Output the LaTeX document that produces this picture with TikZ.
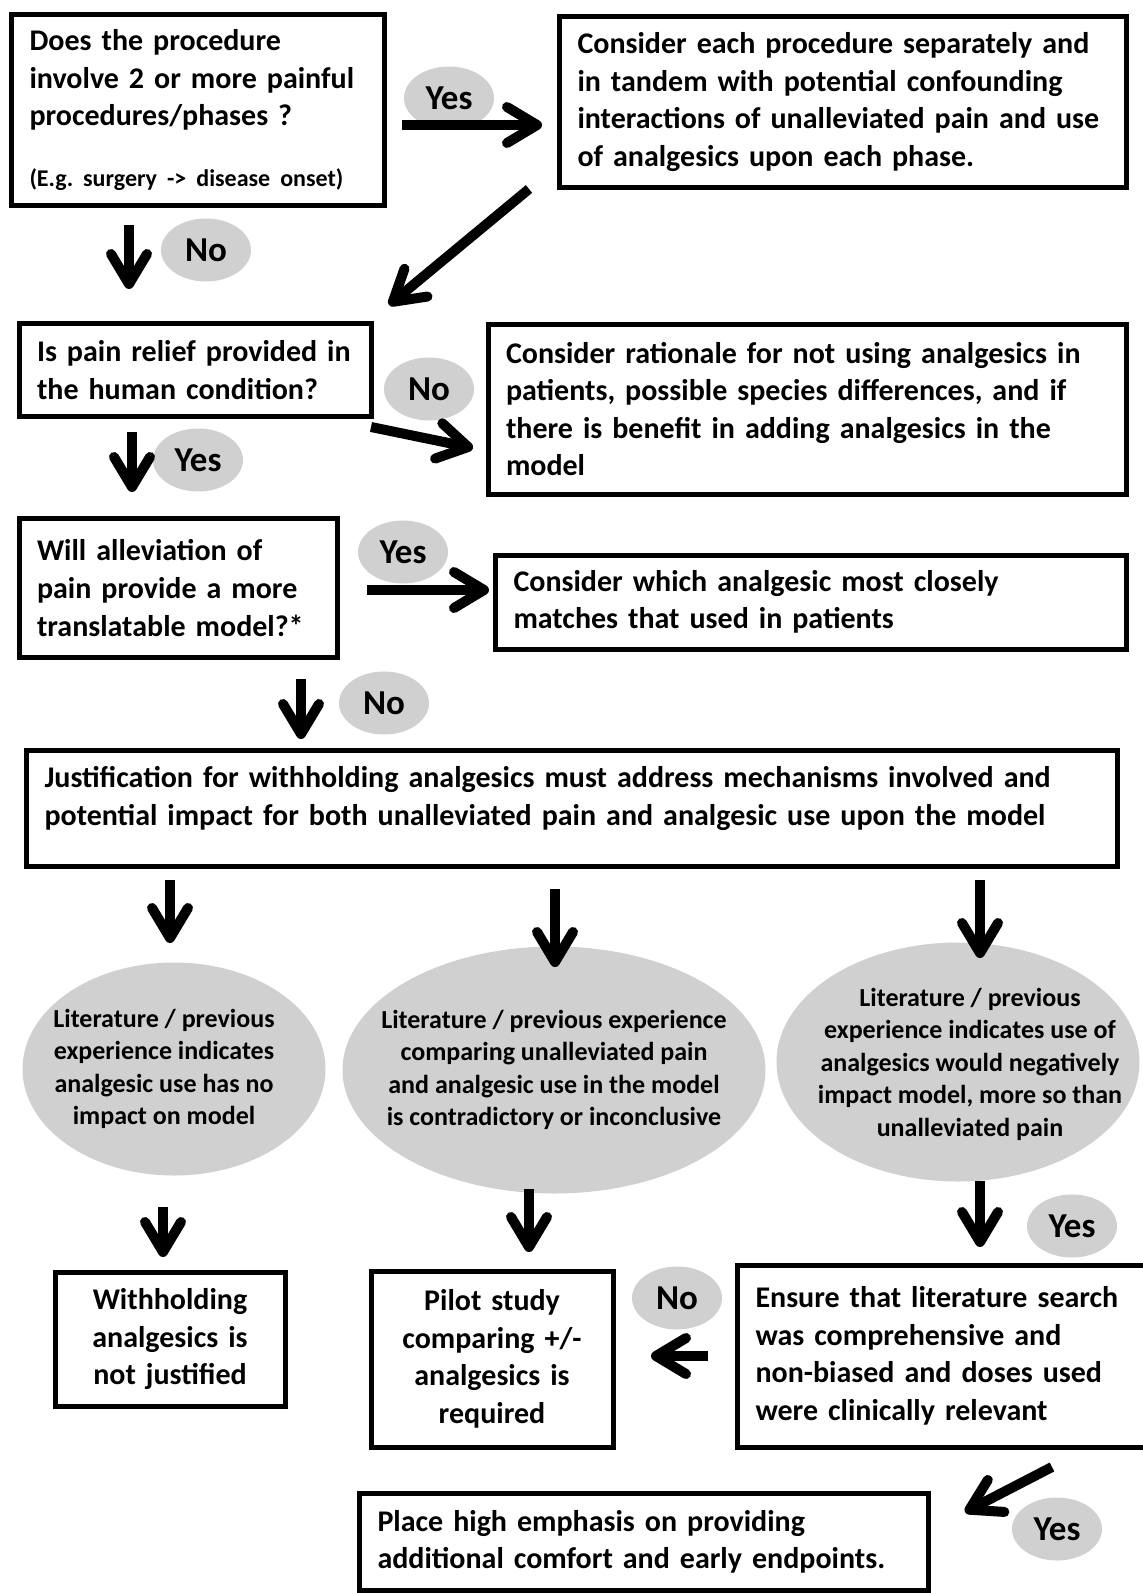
\documentclass[tikz,border=0pt]{standalone}
\usepackage{fontspec}
\setmainfont{Carlito}
\usetikzlibrary{arrows.meta,shapes.geometric}
\definecolor{lblgray}{RGB}{208,208,208}
\frenchspacing

\begin{document}
\begin{tikzpicture}
[x=1pt, y=-1pt,
box/.style={rectangle, draw, line width=5pt, inner xsep=18pt, inner ysep=0pt, align=left, font={\fontsize{30}{37.6}\selectfont\bfseries}},
cbox/.style={box, align=center},
oval/.style={ellipse, fill=lblgray, inner sep=0pt},
ovaltext/.style={inner sep=0pt, align=center, font={\fontsize{26}{32.5}\selectfont\bfseries}},
tag/.style={ellipse, fill=lblgray, inner sep=0pt, minimum width=90pt, minimum height=63pt, font={\fontsize{35}{40}\selectfont\bfseries}},
arr/.style={line width=10pt, -{Straight Barb[length=30pt, width=36pt, line cap=round, line join=round]}}
]
\useasboundingbox (0,0) rectangle (1143,1593);

\node[box, minimum width=373pt, minimum height=191pt, text width=337pt] (multi) at (198,110)
  {Does the procedure\\involve 2 or more painful\\procedures/phases ?\\[23pt]{\fontsize{24}{30}\selectfont(E.g. surgery -> disease onset)}};
\node[box, minimum width=567pt, minimum height=171pt, text width=531pt] (each) at (843,102)
  {Consider each procedure separately and\\in tandem with potential confounding\\interactions of unalleviated pain and use\\of analgesics upon each phase.};
\node[box, minimum width=352pt, minimum height=93pt, text width=316pt] (human) at (195,370)
  {Is pain relief provided in\\the human condition?};
\node[box, minimum width=638pt, minimum height=170pt, text width=602pt] (rationale) at (807,409)
  {Consider rationale for not using analgesics in\\patients, possible species differences, and if\\there is benefit in adding analgesics in the\\model};
\node[box, minimum width=318pt, minimum height=139pt, text width=282pt] (transl) at (178,588)
  {Will alleviation of\\pain provide a more\\translatable model?*};
\node[box, minimum width=631pt, minimum height=94pt, text width=595pt] (which) at (811,602)
  {Consider which analgesic most closely\\matches that used in patients};
\node[box, minimum width=1091pt, minimum height=116pt, text width=1055pt, text depth=62pt] (justif) at (572,808)
  {Justification for withholding analgesics must address mechanisms involved and\\potential impact for both unalleviated pain and analgesic use upon the model};

\node[oval, minimum width=303pt, minimum height=213pt,
  label={[ovaltext, xshift=-10pt]center:{Literature / previous\\experience indicates\\analgesic use has no\\impact on model}}] (noimpact) at (174,1069) {};
\node[oval, minimum width=423pt, minimum height=247pt,
  label={[ovaltext]center:{Literature / previous experience\\comparing unalleviated pain\\and analgesic use in the model\\is contradictory or inconclusive}}] (inconcl) at (554,1070) {};
\node[oval, minimum width=363pt, minimum height=239pt,
  label={[ovaltext, xshift=12pt, yshift=-2pt]center:{Literature / previous\\experience indicates use of\\analgesics would negatively\\impact model, more so than\\unalleviated pain}}] (negative) at (958,1062) {};

\node[cbox, minimum width=230pt, minimum height=134pt, text width=194pt] (notjust) at (170,1339)
  {Withholding\\analgesics is\\not justified};
\node[cbox, minimum width=242pt, minimum height=176pt, text width=206pt] (pilot) at (492,1359)
  {Pilot study\\comparing +/-\\analgesics is\\required};
\node[box, minimum width=413pt, minimum height=182pt, text width=377pt] (ensure) at (944,1356)
  {Ensure that literature search\\was comprehensive and\\non-biased and doses used\\were clinically relevant};
\node[box, minimum width=569pt, minimum height=97pt, text width=533pt] (comfort) at (644,1542)
  {Place high emphasis on providing\\additional comfort and early endpoints.};

\node[tag] (yes1) at (449,98) {Yes};
\node[tag] (no1) at (206,250) {No};
\node[tag] (no2) at (429,389) {No};
\node[tag] (yes2) at (198,460) {Yes};
\node[tag] (yes3) at (403,552) {Yes};
\node[tag] (no3) at (384,703) {No};
\node[tag] (yes4) at (1072,1226) {Yes};
\node[tag] (no4) at (677,1298) {No};
\node[tag] (yes5) at (1057,1529) {Yes};

\coordinate (a1s) at (402,125);  \coordinate (a1e) at (542,125);
\coordinate (a2s) at (529,189);  \coordinate (a2e) at (389,305);
\coordinate (a3s) at (129,225);  \coordinate (a3e) at (129,289);
\coordinate (a4s) at (371,427);  \coordinate (a4e) at (473,448);
\coordinate (a5s) at (132,432);  \coordinate (a5e) at (132,492);
\coordinate (a6s) at (367,590);  \coordinate (a6e) at (489,590);
\coordinate (a7s) at (301,679);  \coordinate (a7e) at (301,739);
\coordinate (a8s) at (170,880);  \coordinate (a8e) at (170,943);
\coordinate (a9s) at (555,889);  \coordinate (a9e) at (555,967);
\coordinate (a10s) at (980,880); \coordinate (a10e) at (980,958);
\coordinate (a11s) at (163,1207); \coordinate (a11e) at (163,1257);
\coordinate (a12s) at (529,1189); \coordinate (a12e) at (529,1252);
\coordinate (a13s) at (980,1181); \coordinate (a13e) at (980,1247);
\coordinate (a14s) at (708,1356); \coordinate (a14e) at (651,1356);
\coordinate (a15s) at (1052,1467); \coordinate (a15e) at (965,1512);

\draw[arr] (a1s) -- (a1e);
\draw[arr] (a2s) -- (a2e);
\draw[arr] (a3s) -- (a3e);
\draw[arr] (a4s) -- (a4e);
\draw[arr] (a5s) -- (a5e);
\draw[arr] (a6s) -- (a6e);
\draw[arr] (a7s) -- (a7e);
\draw[arr] (a8s) -- (a8e);
\draw[arr] (a9s) -- (a9e);
\draw[arr] (a10s) -- (a10e);
\draw[arr] (a11s) -- (a11e);
\draw[arr] (a12s) -- (a12e);
\draw[arr] (a13s) -- (a13e);
\draw[arr] (a14s) -- (a14e);
\draw[arr] (a15s) -- (a15e);
\end{tikzpicture}
\end{document}
